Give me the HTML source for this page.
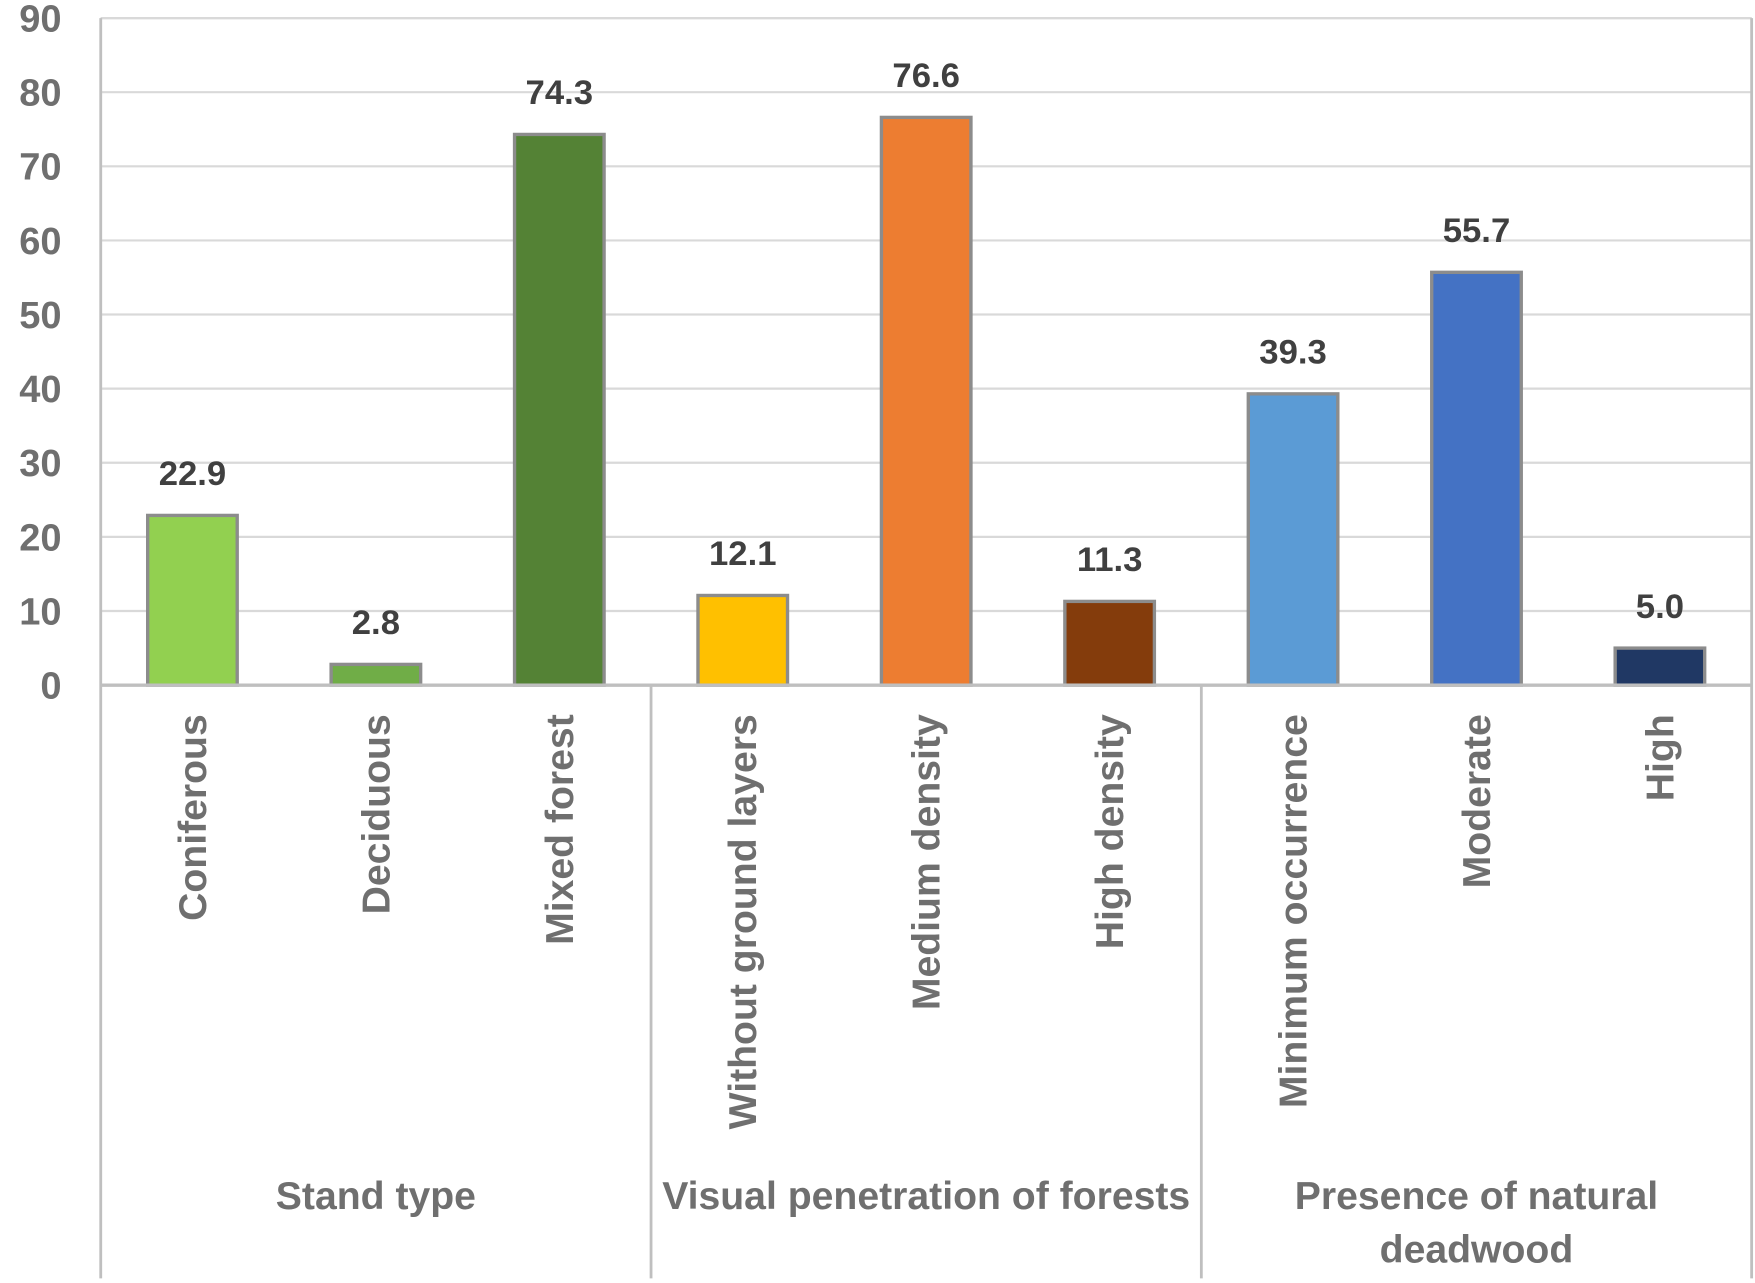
<!DOCTYPE html>
<html><head><meta charset="utf-8"><style>
html,body{margin:0;padding:0;background:#fff;}
svg{display:block;font-family:"Liberation Sans",Arial,sans-serif;}
</style></head><body>
<svg id="chart" width="1755" height="1283" viewBox="0 0 1568 1146" xmlns="http://www.w3.org/2000/svg">
<g id="grid"></g>
<g id="bars"></g>
<g id="axes"></g>
</svg>
<script>
const categories = ["Coniferous","Deciduous","Mixed forest","Without ground layers","Medium density","High density","Minimum occurrence","Moderate","High"];
const values = [22.9, 2.8, 74.3, 12.1, 76.6, 11.3, 39.3, 55.7, 5.0];
const colors = ["#92D050","#70AD47","#548235","#FFC000","#ED7D31","#843C0C","#5B9BD5","#4472C4","#203864"];
const groups = [["Stand type"],["Visual penetration of forests"],["Presence of natural","deadwood"]];
const groupSizes = [3,3,3];
const yTicks = [0,10,20,30,40,50,60,70,80,90];

const NS = "http://www.w3.org/2000/svg";
const L = 90, R = 1565, Y0 = 612, YTOP = 16, YMAX = 90, BOTTOM = 1142;
const catW = (R - L) / categories.length;
const y = v => Y0 - (v / YMAX) * (Y0 - YTOP);
const xc = i => L + (i + 0.5) * catW;
function mk(tag, attrs, parent, text){
  const e = document.createElementNS(NS, tag);
  for (const k in attrs) e.setAttribute(k, attrs[k]);
  if (text !== undefined) e.textContent = text;
  parent.appendChild(e); return e;
}
const grid = document.getElementById('grid'), bars = document.getElementById('bars'), axes = document.getElementById('axes');
yTicks.forEach(t => {
  if (t > 0) {
    const gl = mk('line', {x1:L, x2:R, y1:y(t), y2:y(t), stroke:'#d9d9d9', 'stroke-width':2}, grid);
    
    
  }
  const tl = mk('text', {x:55, y:y(t)+12, 'text-anchor':'end', 'font-size':34, 'font-weight':'bold', fill:'#6f6f6f'}, axes, String(t));
  
  
});
const bw = 80;
values.forEach((v, i) => {
  const r = mk('rect', {x:xc(i)-bw/2, y:y(v), width:bw, height:Y0-y(v), fill:colors[i], stroke:'#8c8c8c', 'stroke-width':3}, bars);
  
  
  const lb = mk('text', {x:xc(i), y:y(v)-27, 'text-anchor':'middle', 'font-size':31, 'font-weight':'bold', fill:'#404040'}, bars, v.toFixed(1));
  
  
  const cl = mk('text', {transform:'translate(' + (xc(i)+12) + ',638) rotate(-90)', 'text-anchor':'end', 'font-size':35, 'font-weight':'bold', fill:'#6f6f6f'}, axes, categories[i]);
  
  
});
const tg = mk('line', {x1:L, x2:R, y1:YTOP, y2:YTOP, stroke:'#d9d9d9', 'stroke-width':2}, axes);


const xa = mk('line', {x1:L, x2:R, y1:Y0, y2:Y0, stroke:'#bfbfbf', 'stroke-width':3}, axes);


let start = 0;
const divs = [0];
groupSizes.forEach(s => { start += s; divs.push(start); });
divs.forEach((d, k) => {
  const top = (k === 0 || k === divs.length-1) ? YTOP : Y0;
  const dl = mk('line', {x1:L+d*catW, x2:L+d*catW, y1:top, y2:BOTTOM, stroke:'#bfbfbf', 'stroke-width':2.5}, axes);
  
  
});
groups.forEach((lines, g) => {
  const cx = L + (divs[g] + groupSizes[g]/2) * catW;
  lines.forEach((ln, j) => {
    const gt = mk('text', {x:cx, y:1080 + j*48, 'text-anchor':'middle', 'font-size':35, 'font-weight':'bold', fill:'#6f6f6f'}, axes, ln);
    
    
  });
});
</script>
</body></html>
